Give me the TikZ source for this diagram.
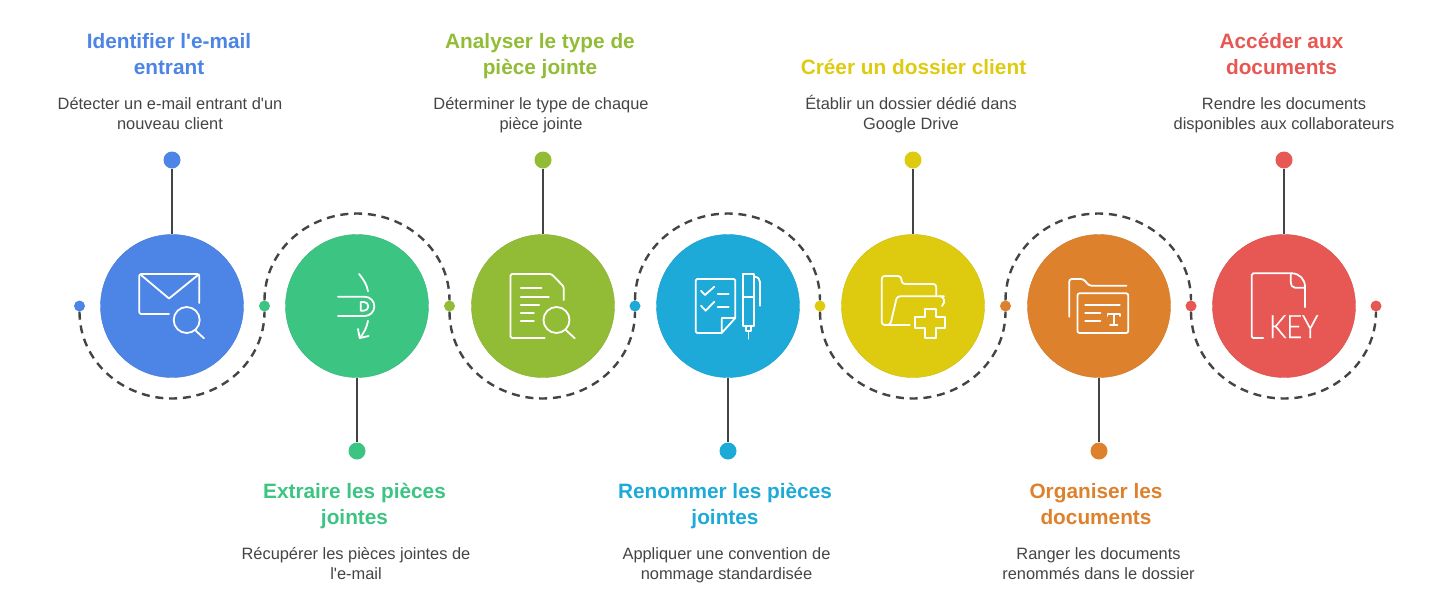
\documentclass[tikz,border=0pt]{standalone}
\usepackage{fontspec}
\setmainfont{Liberation Sans}
\newfontfamily\keyfont{Lato Light}[FakeStretch=0.85,FakeBold=0.8]
\usepackage{xcolor}
\usepackage{tikz}

\definecolor{stepblue}{HTML}{4C85E6}
\definecolor{stepgreen}{HTML}{3CC483}
\definecolor{stepolive}{HTML}{92BC36}
\definecolor{stepcyan}{HTML}{1DAAD9}
\definecolor{stepyellow}{HTML}{DECB10}
\definecolor{steporange}{HTML}{DE812C}
\definecolor{stepred}{HTML}{E75753}
\definecolor{inkgrey}{HTML}{444444}

\tikzset{
  stepcircle/.style={circle, minimum size=143pt, inner sep=0pt},
  smalldot/.style={circle, minimum size=11pt, inner sep=0pt},
  topdot/.style={circle, minimum size=17pt, inner sep=0pt},
  stem/.style={draw=inkgrey, line width=2.4pt},
  dashline/.style={draw=inkgrey, line width=2.4pt, dash pattern=on 8pt off 5.8pt},
  headtext/.style={align=center, anchor=base, inner sep=0pt, font=\fontsize{20.8}{26}\selectfont\bfseries},
  desctext/.style={align=center, anchor=base, inner sep=0pt, text=inkgrey, font=\fontsize{16.4}{20}\selectfont},
  icon/.style={draw=white, line width=1.8pt, line cap=round, line join=round},
}

\begin{document}
\begin{tikzpicture}[x=1pt, y=-1pt]
  \useasboundingbox (0,0) rectangle (1456,606);

  % big circles
  \foreach \i/\cx/\col in {1/172/stepblue, 2/357/stepgreen, 3/543/stepolive, 4/728/stepcyan,
                           5/913/stepyellow, 6/1099/steporange, 7/1284/stepred}{
    \node[stepcircle, fill=\col, draw=\col!92!black, line width=0.4pt] (c\i) at (\cx,306) {};
  }

  % small dots on the wave
  \foreach \i/\cx/\col in {1/79.5/stepblue, 2/264.5/stepgreen, 3/449.5/stepolive, 4/635/stepcyan,
                           5/820/stepyellow, 6/1005.5/steporange, 7/1191/stepred, 8/1376/stepred}{
    \node[smalldot, fill=\col] (d\i) at (\cx,306) {};
  }

  % dashed wave
  \foreach \i/\j/\cx/\cy/\ang in {1/2/172/398.5/-90, 2/3/357/213.5/90, 3/4/542.5/398.5/-90,
                                  4/5/728/213.5/90, 5/6/913/398.5/-90, 6/7/1098.5/213.5/90,
                                  7/8/1284/398.5/-90}{
    \coordinate (a\i) at (\cx,\cy);
    \draw[dashline] (d\i) to[out=\ang, in=180] (a\i) to[out=0, in=\ang] (d\j);
  }

  % end dots and stems
  \foreach \i/\cx/\cy/\col in {1/172/160/stepblue, 2/357/451/stepgreen, 3/543/160/stepolive, 4/728/451/stepcyan,
                               5/913/160/stepyellow, 6/1099/451/steporange, 7/1284/160/stepred}{
    \node[topdot, fill=\col] (t\i) at (\cx,\cy) {};
    \draw[stem] (c\i) -- (t\i);
  }

  %---- titles ----
  \node[headtext, text=stepblue] (h1) at (169,74) {Identifier l\textquotesingle e-mail\\entrant};
  \node[headtext, text=stepgreen] (h2) at (354.5,524) {Extraire les pièces\\jointes};
  \node[headtext, text=stepolive] (h3) at (540,74) {Analyser le type de\\pièce jointe};
  \node[headtext, text=stepcyan] (h4) at (725,524) {Renommer les pièces\\jointes};
  \node[headtext, text=stepyellow] (h5) at (913.5,74) {Créer un dossier client};
  \node[headtext, text=steporange] (h6) at (1096,524) {Organiser les\\documents};
  \node[headtext, text=stepred] (h7) at (1281.5,74) {Accéder aux\\documents};

  %---- descriptions ----
  \node[desctext] (e1) at (170,129.5) {Détecter un e-mail entrant d\textquotesingle un\\nouveau client};
  \node[desctext] (e2) at (356,579.5) {Récupérer les pièces jointes de\\l\textquotesingle e-mail};
  \node[desctext] (e3) at (541,129.5) {Déterminer le type de chaque\\pièce jointe};
  \node[desctext] (e4) at (726.5,579.5) {Appliquer une convention de\\nommage standardisée};
  \node[desctext] (e5) at (911,129.5) {Établir un dossier dédié dans\\Google Drive};
  \node[desctext] (e6) at (1098.5,579.5) {Ranger les documents\\renommés dans le dossier};
  \node[desctext] (e7) at (1284,129.5) {Rendre les documents\\disponibles aux collaborateurs};

  %---- icons ----
  % envelope
  \begin{scope}[shift={(172,306)}]
    \draw[icon, rounded corners=2pt] (27.3,-3) -- (27.3,-32) -- (-32.7,-32) -- (-32.7,8) -- (-3,8);
    \draw[icon] (-31,-31) -- (-3,-7.5) -- (26,-31);
    \draw[icon] (14.7,14) circle (13pt);
    \draw[icon] (23,24) -- (32,32.3);
  \end{scope}

  % pill with arrow
  \begin{scope}[shift={(357,306)}]
    \draw[icon] (2,-32) .. controls (7,-26) and (10,-21) .. (11,-14.7);
    \draw[icon] (-19,-9.3) -- (7.7,-9.3) arc[start angle=90, end angle=-90, radius=9.65pt] -- (-19,10);
    \draw[icon] (3.7,-4) -- (3.7,4.7) -- (7,4.7) arc[start angle=-90, end angle=90, radius=4.35pt] -- cycle;
    \draw[icon] (11,14.7) .. controls (10,21) and (7,27) .. (2.7,32);
    \draw[icon] (1,23) -- (2.7,32) -- (11.7,30);
  \end{scope}

  % document with lens
  \begin{scope}[shift={(542.5,306)}]
    \draw[icon, rounded corners=1.5pt] (2.3,32) -- (-32,32) -- (-32,-32) -- (9,-32) -- (21.3,-19.3) -- (21.3,-6);
    \foreach \y/\xe in {-18/-1, -9.3/6.3, -1/-3.3, 7.3/-8.7, 15.3/-8.7}{
      \draw[icon] (-21.7,\y) -- (\xe,\y);
    }
    \draw[icon] (14,14) circle (13pt);
    \draw[icon] (23.3,24) -- (32.3,32.3);
  \end{scope}

  % checklist and pen
  \begin{scope}[shift={(728,306)}]
    \draw[icon, rounded corners=1.5pt] (-6.3,27) -- (-32.3,27) -- (-32.3,-27) -- (7.3,-27) -- (7.3,12);
    \draw[icon] (7.3,12) -- (-6.3,27) -- (-6.3,12) -- cycle;
    \draw[icon] (-27,-15.3) -- (-23,-11) -- (-13.7,-19.3);
    \draw[icon] (-10.3,-12) -- (0.7,-12);
    \draw[icon] (-27,-0.3) -- (-22.3,4.7) -- (-13.7,-4.3);
    \draw[icon] (-10.3,1.3) -- (0.7,1.3);
    \draw[icon] (14.7,-32) rectangle (26.3,20);
    \draw[icon] (14.7,-9.3) -- (26.3,-9.3);
    \draw[icon] (18,20) rectangle (23,25);
    \draw[icon] (20.5,25) -- (20.5,32.7);
    \draw[icon] (26.3,-29.3) .. controls (30,-29) and (32,-27) .. (32,-24) -- (32,-0.3);
  \end{scope}

  % folder with plus
  \begin{scope}[shift={(913,306)}]
    \draw[icon, rounded corners=3pt] (-3.3,19) -- (-31.3,19) -- (-31.3,-30) -- (-12,-30) -- (-11,-22) -- (23.3,-22) -- (23.3,-10.3);
    \draw[icon, rounded corners=3pt] (-24,19) -- (-22.7,19) -- (-16,-9.7) -- (31,-9.7);
    \draw[icon] (27,-9.7) .. controls (31,-9.7) and (33,-4) .. (29,0);
    \draw[icon] (11.7,3) -- (22.7,3) -- (22.7,11.3) -- (32,11.3) -- (32,21.7) -- (22.7,21.7) -- (22.7,32) -- (11.7,32)
      -- (11.7,21.7) -- (2,21.7) -- (2,11.3) -- (11.7,11.3) -- cycle;
  \end{scope}

  % folder with T page
  \begin{scope}[shift={(1098.5,306)}]
    \draw[icon, rounded corners=2.5pt] (-29.3,10.7) -- (-29.3,-27) -- (-15.3,-27) -- (-9.3,-20.3) -- (28,-20.3);
    \draw[icon, rounded corners=2pt] (-21,-12.7) rectangle (29.7,27);
    \draw[icon] (-13.3,-1) -- (21.3,-1);
    \draw[icon] (-13.3,7.3) -- (2,7.3);
    \draw[icon] (-13.3,15.3) -- (2,15.3);
    \draw[icon] (9,10) -- (9,8) -- (21.3,8) -- (21.3,10);
    \draw[icon] (15.2,8) -- (15.2,18.7);
    \draw[icon] (11.5,18.7) -- (19,18.7);
  \end{scope}

  % key file
  \begin{scope}[shift={(1284,306)}]
    \draw[icon, rounded corners=1.5pt] (-20.7,32) -- (-32.3,32) -- (-32.3,-32.7) -- (7.7,-32.7);
    \draw[icon] (7.7,-32.7) .. controls (15,-32.7) and (21,-27) .. (21,-19.3) -- (21,1.3);
    \draw[icon] (6.7,-32) -- (6.7,-24) .. controls (6.7,-21) and (8,-18.3) .. (11,-18.3) -- (21,-18.3);
    \node[text=white, inner sep=0pt, anchor=base, font=\fontsize{32}{32}\selectfont\keyfont] (k1) at (9.7,32) {KEY};
  \end{scope}

\end{tikzpicture}
\end{document}
